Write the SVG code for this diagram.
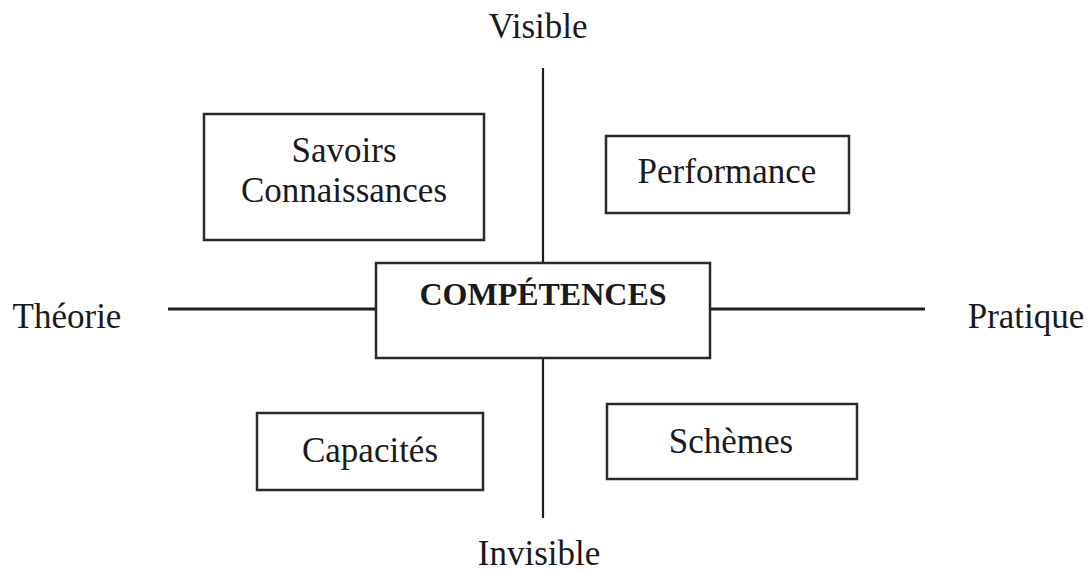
<svg xmlns="http://www.w3.org/2000/svg" width="1091" height="573" viewBox="0 0 1091 573">
<style>
.box{fill:#fff;stroke:#2a2a2a;stroke-width:2.5}
.ln{stroke:#1e1e1e;fill:none}
.t{font-family:"Liberation Serif","Times New Roman",serif;font-size:35px;fill:#1a1a1a;text-anchor:middle}
.b{font-weight:bold;font-size:32px}
</style>
<rect width="1091" height="573" fill="#fff"/>
<g id="connectors">
<line class="ln" x1="543" y1="68" x2="543" y2="263" stroke-width="2.2"/>
<line class="ln" x1="543" y1="358" x2="543" y2="518" stroke-width="2.2"/>
<line class="ln" x1="168" y1="309" x2="376" y2="309" stroke-width="3"/>
<line class="ln" x1="710" y1="309" x2="925" y2="309" stroke-width="3"/>
</g>
<g id="label-visible"><text class="t" x="538" y="38">Visible</text></g>
<g id="label-invisible"><text class="t" x="539" y="565">Invisible</text></g>
<g id="label-theorie"><text class="t" x="67" y="328">Théorie</text></g>
<g id="label-pratique"><text class="t" x="1026" y="328">Pratique</text></g>
<g id="node-savoirs">
<rect class="box" x="204" y="114" width="280" height="126"/>
<text class="t" x="344" y="162">Savoirs</text>
<text class="t" x="344" y="202">Connaissances</text>
</g>
<g id="node-performance">
<rect class="box" x="606" y="136" width="243" height="77"/>
<text class="t" x="727" y="183">Performance</text>
</g>
<g id="node-competences">
<rect class="box" x="376" y="263" width="334" height="95"/>
<text class="t b" x="543" y="305">COMPÉTENCES</text>
</g>
<g id="node-capacites">
<rect class="box" x="257" y="413" width="226" height="77"/>
<text class="t" x="370" y="462">Capacités</text>
</g>
<g id="node-schemes">
<rect class="box" x="607" y="404" width="250" height="75"/>
<text class="t" x="731" y="453">Schèmes</text>
</g>
</svg>
